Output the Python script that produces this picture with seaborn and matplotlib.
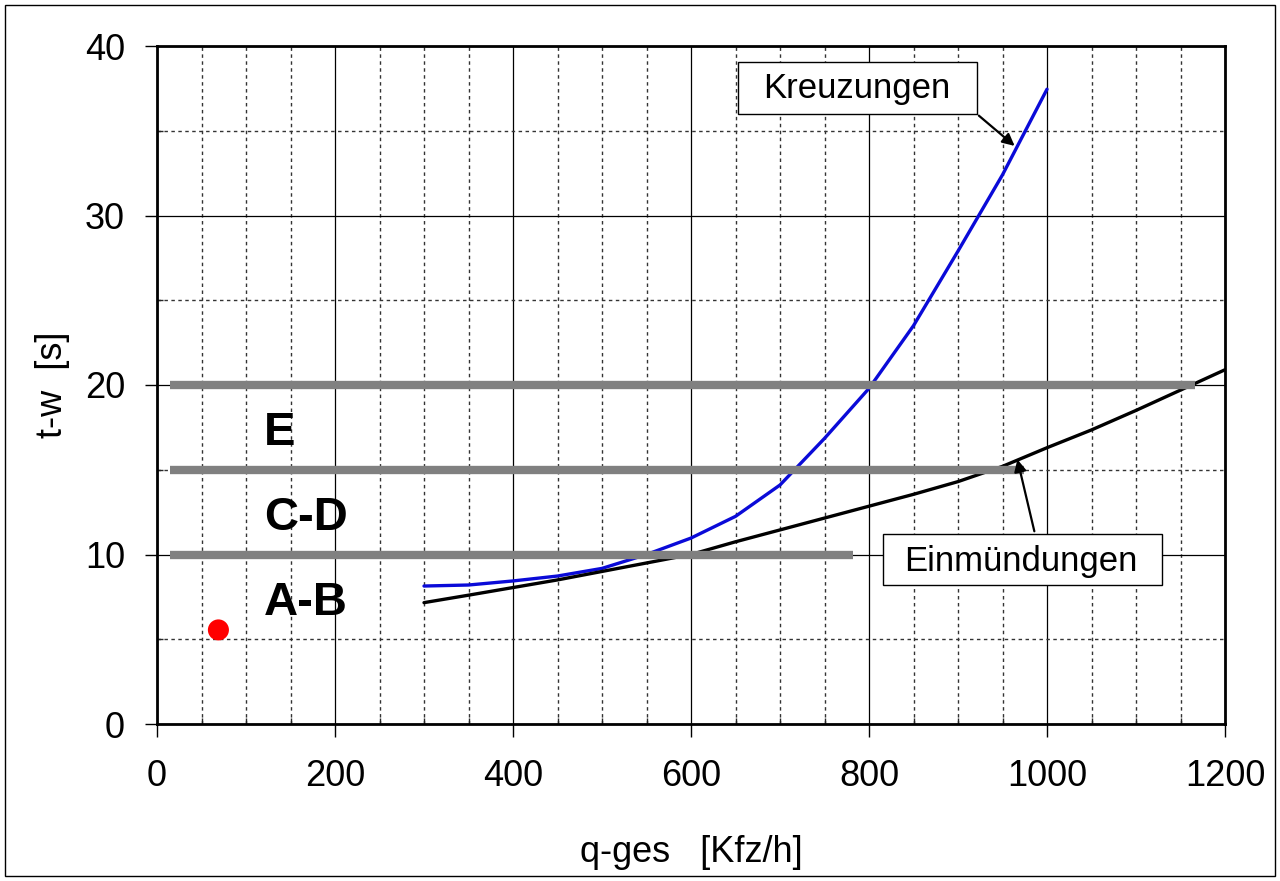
import numpy as np
import pandas as pd
import seaborn as sns
import matplotlib.pyplot as plt
from matplotlib.patches import Rectangle
from matplotlib.ticker import MultipleLocator

# values
q_ges = [300, 350, 400, 450, 500, 550, 600, 650, 700, 750, 800, 850, 900, 950, 1000]
t_kreuzungen = [8.14, 8.2, 8.44, 8.73, 9.18, 10.0, 10.97, 12.25, 14.1, 16.85, 19.8, 23.5, 27.9, 32.4, 37.45]

q_ein = [300, 350, 400, 450, 500, 550, 600, 650, 700, 750, 800, 850, 900, 950,
         1000, 1050, 1100, 1150, 1200]
t_einmuendungen = [7.16, 7.6, 8.05, 8.5, 9.0, 9.5, 10.0, 10.75, 11.45, 12.15, 12.85, 13.55,
                   14.3, 15.2, 16.3, 17.35, 18.5, 19.7, 20.9]

# level-of-service limits (t-w) and their extent along q-ges
los_levels = [10, 15, 20]
los_start = [15, 15, 15]
los_end = [782, 974, 1166]
los_names = ["A-B", "C-D", "E"]
los_name_y = [6.43, 11.45, 16.46]

point_q = [69]
point_t = [5.55]

sns.set_theme(style="white")
plt.rcParams["font.family"] = ["Liberation Sans", "DejaVu Sans"]
plt.rcParams["text.color"] = "black"
plt.rcParams["axes.labelcolor"] = "black"

fig = plt.figure(figsize=(12.8, 8.81), dpi=100)
ax = fig.add_axes([157 / 1280, 1 - 724 / 881, (1225 - 157) / 1280, (724 - 46) / 881])

df_k = pd.DataFrame({"q": q_ges, "t": t_kreuzungen})
df_e = pd.DataFrame({"q": q_ein, "t": t_einmuendungen})
sns.lineplot(data=df_k, x="q", y="t", color="#0a0ad8", linewidth=2.4, ax=ax, zorder=3)
sns.lineplot(data=df_e, x="q", y="t", color="black", linewidth=2.4, ax=ax, zorder=3)
sns.scatterplot(x=point_q, y=point_t, color="#ff0000", s=230, edgecolor="none", ax=ax, zorder=5)

ax.hlines(los_levels, los_start, los_end, colors="#808080", linewidth=6, zorder=4)
for name, yv in zip(los_names, los_name_y):
    ax.text(120, yv, name, fontsize=34, fontweight="bold", ha="left", va="baseline",
            color="black", zorder=6)

ax.set_xlim(0, 1200)
ax.set_ylim(0, 40)
ax.xaxis.set_major_locator(MultipleLocator(200))
ax.xaxis.set_minor_locator(MultipleLocator(50))
ax.yaxis.set_major_locator(MultipleLocator(10))
ax.yaxis.set_minor_locator(MultipleLocator(5))
ax.grid(which="major", color="black", linewidth=0.9, linestyle="-")
ax.grid(which="minor", color="0.2", linewidth=1.0, linestyle=(0, (2.5, 2.5)))
ax.set_axisbelow(True)

ax.tick_params(which="major", direction="out", length=9, width=1, labelsize=26,
               bottom=True, left=True, colors="black")
ax.tick_params(axis="x", which="major", pad=16)
ax.tick_params(axis="y", which="major", pad=14)
ax.tick_params(which="minor", direction="in", length=4, width=1, bottom=True, left=True)
for s in ax.spines.values():
    s.set_color("black")
    s.set_linewidth(2)

ax.set_xlabel("q-ges   [Kfz/h]", fontsize=26, labelpad=30)
ax.set_ylabel("t-w  [s]", fontsize=26, labelpad=11)

# annotation boxes
ax.add_patch(Rectangle((653, 35.97), 268.7, 3.1, facecolor="white", edgecolor="black",
                       linewidth=1, zorder=7))
ax.text(786.5, 36.91, "Kreuzungen", fontsize=25, ha="center", va="baseline", zorder=8)
ax.annotate("", xy=(966, 34.0), xytext=(921, 36.0),
            arrowprops=dict(arrowstyle="-|>", color="black", lw=1.6, mutation_scale=18),
            zorder=8)

ax.add_patch(Rectangle((815.4, 8.2), 313.5, 3.01, facecolor="white", edgecolor="black",
                       linewidth=1, zorder=7))
ax.text(970.6, 9.04, "Einmündungen", fontsize=25, ha="center", va="baseline", zorder=8)
ax.annotate("", xy=(966, 15.77), xytext=(986.5, 11.21),
            arrowprops=dict(arrowstyle="-|>", color="black", lw=1.6, mutation_scale=18),
            zorder=8)

fig.patches.append(Rectangle((5 / 1280, 5 / 881), 1270 / 1280, 871 / 881, transform=fig.transFigure,
                             fill=False, edgecolor="black", linewidth=1))

fig.savefig("out.png", dpi=100)
